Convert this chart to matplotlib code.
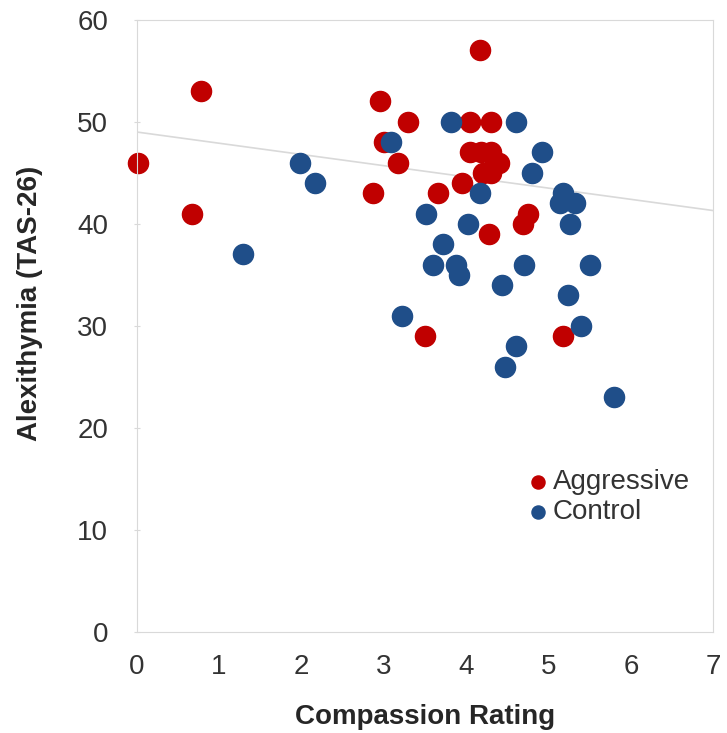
import matplotlib.pyplot as plt
import numpy as np

plt.rcParams['font.family'] = ['Liberation Sans', 'DejaVu Sans']

# Aggressive group
agg_x = [0.02, 0.67, 0.78, 2.87, 2.95, 3.0, 3.17, 3.29, 3.5, 3.66, 3.95, 4.05, 4.3,
         4.17, 4.05, 4.18, 4.3, 4.4, 4.35, 4.2, 4.3, 4.28, 4.69, 4.75, 5.18]
agg_y = [46, 41, 53, 43, 52, 48, 46, 50, 29, 43, 44, 50, 50,
         57, 47, 47, 47, 46, 46, 45, 45, 39, 40, 41, 29]

# Control group
ctl_x = [1.29, 1.98, 2.17, 3.09, 3.22, 3.51, 3.6, 3.72, 3.88, 3.91, 4.02, 4.17, 3.82,
         4.6, 4.43, 4.7, 4.8, 4.92, 5.18, 5.14, 5.32, 5.26, 5.5, 5.24, 5.4, 4.6, 4.47, 5.8]
ctl_y = [37, 46, 44, 48, 31, 41, 36, 38, 36, 35, 40, 43, 50,
         50, 34, 36, 45, 47, 43, 42, 42, 40, 36, 33, 30, 28, 26, 23]

# trend line (as drawn in the original)
trend_start = 49.0
trend_slope = -1.1

txt = '#333333'
grey = '#D9D9D9'

fig, ax = plt.subplots(figsize=(7.27, 7.33), dpi=100)
fig.subplots_adjust(left=0.188, right=0.981, top=0.973, bottom=0.138)

xs = np.array([0, 7])
ax.plot(xs, trend_start + trend_slope * xs, color=grey, lw=1.2, zorder=1)

ax.scatter(agg_x, agg_y, s=210, color='#C00000', label='Aggressive', zorder=2, clip_on=False)
ax.scatter(ctl_x, ctl_y, s=210, color='#1F4E89', label='Control', zorder=3, clip_on=False)

ax.set_xlim(0, 7)
ax.set_ylim(0, 60)
ax.set_xticks(range(0, 8))
ax.set_yticks(range(0, 61, 10))
ax.tick_params(axis='both', labelsize=20, colors=grey, labelcolor=txt)
ax.tick_params(axis='x', length=0, pad=16)
ax.tick_params(axis='y', length=5, direction='inout', pad=18)

for s in ax.spines.values():
    s.set_color(grey)

ax.set_xlabel('Compassion Rating', fontsize=20, fontweight='bold', color='#262626', labelpad=17)
ax.set_ylabel('Alexithymia (TAS-26)', fontsize=20, fontweight='bold', color='#262626')
ax.yaxis.set_label_coords(-0.162, 0.536)

leg = ax.legend(loc='center left', bbox_to_anchor=(0.623, 0.22), frameon=False,
                fontsize=20, handletextpad=-0.45, labelspacing=0.15, borderpad=0,
                markerscale=0.65)
for t in leg.get_texts():
    t.set_color(txt)

plt.savefig('out.png', dpi=100)
